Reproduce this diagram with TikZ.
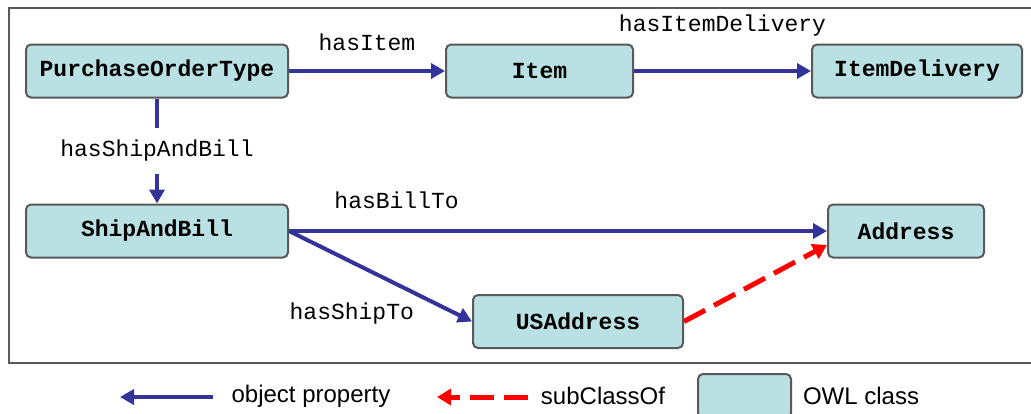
\documentclass[tikz,border=0pt]{standalone}
\usepackage{fontspec}
\setmainfont{Liberation Sans}
\setmonofont{Liberation Mono}
\usetikzlibrary{arrows.meta}
\usepackage{xcolor}
\definecolor{owlfill}{RGB}{185,224,227}
\definecolor{propblue}{RGB}{51,51,153}

\begin{document}
\begin{tikzpicture}[
		x=0.5pt, y=-0.5pt,
		c/.style = {rectangle, rounded corners=2.5pt, draw=black!65, fill=owlfill, line width=1pt, minimum height=26.5pt, font=\ttfamily\bfseries\fontsize{11.5}{13}\selectfont},
		r/.style = {-{Triangle[length=7pt, width=7.5pt]}, draw=propblue, line width=2pt},
		s/.style = {-{Triangle[length=7pt, width=8pt]}, draw=red, line width=2.5pt, dash pattern=on 12pt off 5pt},
		l/.style = {font=\ttfamily\fontsize{11.5}{13}\selectfont, text=black},
		k/.style = {font=\fontsize{12}{14}\selectfont}
		]
		\useasboundingbox (0,0) rectangle (1031,413);
		
		%Frame
		\draw[black!65, line width=1pt] (1031,8) -- (9,8) -- (9,363) -- (1031,363);
		
		%Nodes
		\node[c, minimum width=131pt]	(po)		at	(157,71)		{PurchaseOrderType};
		\node[c, minimum width=93.5pt]	(item)		at	(539.5,71)		{Item};
		\node[c, minimum width=105pt]	(idel)		at	(917,71)		{ItemDelivery};
		\node[c, minimum width=131pt]	(sab)		at	(157,231)		{ShipAndBill};
		\node[c, minimum width=78pt]	(addr)		at	(906,231)		{Address};
		\node[c, minimum width=105pt]	(usaddr)	at	(578,321.5)		{USAddress};
		
		%Lines
		\draw[r]	(po.east)		to	node[l, above=6pt]					{hasItem}			(item.west);
		\draw[r]	(item.east)		to	node[l, above=13pt]					{hasItemDelivery}	(idel.west);
		\draw[r]	(po.south)		to	node[l, fill=white, inner ysep=6pt]	{hasShipAndBill}	(sab.north);
		\draw[r]	(sab.east)		to	node[l, pos=0.2, above=7pt]			{hasBillTo}			(addr.west);
		\draw[r]	(sab.east)		to	node[l, pos=0.85, left=11pt, yshift=-3pt]	{hasShipTo}	(usaddr.west);
		\draw[s]	(usaddr.east)	to	(addr.190);
		
		%Legend
		\coordinate	(op1)	at	(213,397);
		\coordinate	(op2)	at	(120,397);
		\draw[r]	(op1)	--	(op2);
		\node[k]	(opt)	at	(311,396)	{object property};
		\coordinate	(sc1)	at	(528,397);
		\coordinate	(sc2)	at	(437,397);
		\draw[s]	(sc1)	--	(sc2);
		\node[k]	(sct)	at	(603,396)	{subClassOf};
		\node[c, minimum width=46.5pt, minimum height=22pt]	(key)	at	(744.5,396)	{};
		\node[k]	(keyt)	at	(861,396)	{OWL class};
	\end{tikzpicture}
\end{document}
